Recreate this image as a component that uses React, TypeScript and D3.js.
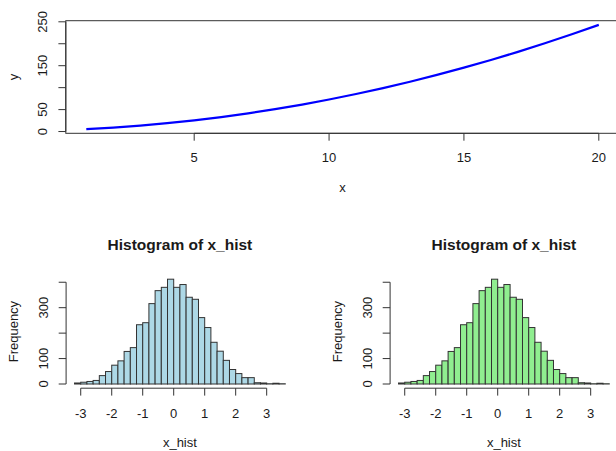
import React, { useEffect, useRef } from 'react';
import * as d3 from 'd3';

// top panel: y against x
const xValues = [1, 2, 3, 4, 5, 6, 7, 8, 9, 10, 11, 12, 13, 14, 15, 16, 17, 18, 19, 20];
const yValues = [5.5, 9, 13.5, 19, 25.5, 33, 41.5, 51, 61.5, 73, 85.5, 99, 113.5, 129, 145.5, 163, 181.5, 201, 221.5, 243];
const xTicksTop = [5, 10, 15, 20];
const yTicksTop = [0, 50, 100, 150, 200, 250];
const yLabelsTop = [0, 50, 150, 250];

// histogram of x_hist (same counts in both lower panels)
const histBreaks = [-3.2, -3.0, -2.8, -2.6, -2.4, -2.2, -2.0, -1.8, -1.6, -1.4, -1.2, -1.0, -0.8, -0.6, -0.4, -0.2, 0,
    0.2, 0.4, 0.6, 0.8, 1.0, 1.2, 1.4, 1.6, 1.8, 2.0, 2.2, 2.4, 2.6, 2.8, 3.0, 3.2, 3.4, 3.6];
const histCounts = [4, 7, 10, 14, 33, 49, 74, 91, 128, 143, 233, 241, 316, 367, 380, 412, 380,
    391, 341, 333, 261, 222, 164, 129, 93, 57, 41, 25, 25, 5, 4, 1, 3, 1];
const histXTicks = [-3, -2, -1, 0, 1, 2, 3];
const histYTicks = [0, 100, 200, 300, 400];
const histYLabels = [0, 100, 300];
const histColors = ['#ADD8E6', '#90EE90'];

const FONT = '"Liberation Sans", Arial, sans-serif';
const AXIS = '#333';
const TEXT = '#1a1a1a';

const App = () => {
    const svgRef = useRef(null);

    useEffect(() => {
        const svg = d3.select(svgRef.current);
        svg.selectAll('*').remove();

        // ---- top panel ----
        const xPad = (d3.max(xValues) - d3.min(xValues)) * 0.04;
        const yPad = (d3.max(yValues) - d3.min(yValues)) * 0.04;
        const x = d3.scaleLinear()
            .domain([d3.min(xValues) - xPad, d3.max(xValues) + xPad])
            .range([65.8, 619.3]);
        const y = d3.scaleLinear()
            .domain([d3.min(yValues) - yPad, d3.max(yValues) + yPad])
            .range([133.3, 20.7]);

        const top = svg.append('g');
        top.append('rect')
            .attr('x', x.range()[0]).attr('y', y.range()[1])
            .attr('width', x.range()[1] - x.range()[0])
            .attr('height', y.range()[0] - y.range()[1])
            .attr('fill', 'none').attr('stroke', AXIS);

        top.append('path')
            .datum(xValues.map((d, i) => [d, yValues[i]]))
            .attr('d', d3.line().x(d => x(d[0])).y(d => y(d[1])))
            .attr('fill', 'none')
            .attr('stroke', '#0000FF')
            .attr('stroke-width', 2.2);

        // y axis
        top.append('line')
            .attr('x1', x.range()[0]).attr('x2', x.range()[0])
            .attr('y1', y(0)).attr('y2', y(250))
            .attr('stroke', AXIS);
        yTicksTop.forEach(t => {
            top.append('line')
                .attr('x1', x.range()[0] - 7.4).attr('x2', x.range()[0])
                .attr('y1', y(t)).attr('y2', y(t))
                .attr('stroke', AXIS);
        });
        yLabelsTop.forEach(t => {
            top.append('text')
                .attr('transform', `translate(47, ${y(t)}) rotate(-90)`)
                .attr('text-anchor', 'middle')
                .text(t);
        });
        // x axis
        top.append('line')
            .attr('x1', x(5)).attr('x2', x(20))
            .attr('y1', y.range()[0]).attr('y2', y.range()[0])
            .attr('stroke', AXIS);
        xTicksTop.forEach(t => {
            top.append('line')
                .attr('x1', x(t)).attr('x2', x(t))
                .attr('y1', y.range()[0]).attr('y2', y.range()[0] + 7.4)
                .attr('stroke', AXIS);
            top.append('text')
                .attr('x', x(t)).attr('y', 162)
                .attr('text-anchor', 'middle')
                .text(t);
        });
        top.append('text')
            .attr('x', (x.range()[0] + x.range()[1]) / 2).attr('y', 192)
            .attr('text-anchor', 'middle').text('x');
        top.append('text')
            .attr('transform', `translate(18, ${(y.range()[0] + y.range()[1]) / 2}) rotate(-90)`)
            .attr('text-anchor', 'middle').text('y');

        // ---- histograms ----
        const hxPad = (histBreaks[histBreaks.length - 1] - histBreaks[0]) * 0.04;
        const hyPad = d3.max(histCounts) * 0.04;

        histColors.forEach((color, k) => {
            const dx = k * 324;
            const hx = d3.scaleLinear()
                .domain([histBreaks[0] - hxPad, histBreaks[histBreaks.length - 1] + hxPad])
                .range([66.1 + dx, 293.7 + dx]);
            const hy = d3.scaleLinear()
                .domain([-hyPad, d3.max(histCounts) + hyPad])
                .range([388.2, 275.0]);
            const g = svg.append('g');

            g.selectAll('rect.bar')
                .data(histCounts)
                .join('rect')
                .attr('class', 'bar')
                .attr('x', (d, i) => hx(histBreaks[i]))
                .attr('width', (d, i) => hx(histBreaks[i + 1]) - hx(histBreaks[i]))
                .attr('y', d => hy(d))
                .attr('height', d => hy(0) - hy(d))
                .attr('fill', color)
                .attr('stroke', '#333')
                .attr('stroke-width', 1);

            const left = hx.range()[0];
            const bottom = hy.range()[0];

            g.append('line')
                .attr('x1', left).attr('x2', left)
                .attr('y1', hy(0)).attr('y2', hy(400))
                .attr('stroke', AXIS);
            histYTicks.forEach(t => {
                g.append('line')
                    .attr('x1', left - 7.4).attr('x2', left)
                    .attr('y1', hy(t)).attr('y2', hy(t))
                    .attr('stroke', AXIS);
            });
            histYLabels.forEach(t => {
                g.append('text')
                    .attr('transform', `translate(${47.5 + dx}, ${hy(t)}) rotate(-90)`)
                    .attr('text-anchor', 'middle')
                    .text(t);
            });

            g.append('line')
                .attr('x1', hx(-3)).attr('x2', hx(3))
                .attr('y1', bottom).attr('y2', bottom)
                .attr('stroke', AXIS);
            histXTicks.forEach(t => {
                g.append('line')
                    .attr('x1', hx(t)).attr('x2', hx(t))
                    .attr('y1', bottom).attr('y2', bottom + 7.4)
                    .attr('stroke', AXIS);
                g.append('text')
                    .attr('x', hx(t)).attr('y', 417.5)
                    .attr('text-anchor', 'middle')
                    .text(t);
            });

            const mid = (hx.range()[0] + hx.range()[1]) / 2;
            g.append('text')
                .attr('x', mid).attr('y', 446.5)
                .attr('text-anchor', 'middle').text('x_hist');
            g.append('text')
                .attr('transform', `translate(${18 + dx}, ${(hy.range()[0] + hy.range()[1]) / 2}) rotate(-90)`)
                .attr('text-anchor', 'middle').text('Frequency');
            g.append('text')
                .attr('class', 'title')
                .attr('x', mid).attr('y', 250)
                .attr('text-anchor', 'middle')
                .style('font-weight', 'bold')
                .text('Histogram of x_hist');
        });

        svg.selectAll('text')
            .style('font-family', FONT)
            .style('font-size', '13px')
            .attr('fill', TEXT);
        svg.selectAll('text.title').style('font-size', '15.5px');
    }, []);

    return (
        <svg
            ref={svgRef}
            width={616}
            height={451}
            style={{ position: 'absolute', left: 0, top: 0, background: '#fff' }}
        />
    );
};

export default App;
